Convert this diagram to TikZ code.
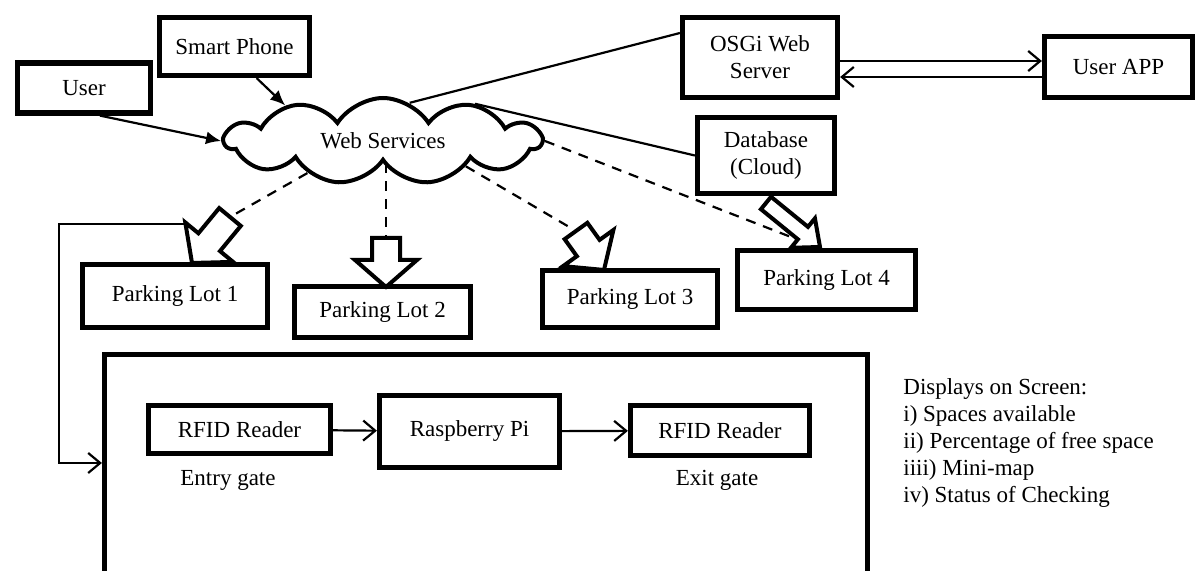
\documentclass[tikz,border=0pt]{standalone}
\usepackage{fontspec}
\setmainfont{Liberation Serif}
\usetikzlibrary{shapes.symbols,arrows.meta,calc}

\tikzset{
  box/.style={draw, line width=2.6pt, align=center, inner sep=2pt, line join=miter},
  conn/.style={line width=1.1pt},
  dashconn/.style={line width=1.1pt, dash pattern=on 5pt off 4pt},
  vtip/.style={-{Straight Barb[length=6pt,width=10pt]}},
  vboth/.style={{Straight Barb[length=6pt,width=10pt]}-},
  filltip/.style={-{Latex[length=7.5pt,width=6.5pt]}},
  hollow/.style={draw, fill=white, line width=2pt, line join=miter},
}

% block arrow with a white body from #1 (tail) to #2 (tip);
% #3 shaft half width, #4 head half width, #5 head length (pt)
\newcommand{\hollowarrow}[5]{%
  \path let \p1=(#1), \p2=(#2),
        \n1={atan2(\y2-\y1,\x2-\x1)}, \n2={veclen(\x2-\x1,\y2-\y1)} in
        \pgfextra{\xdef\hArrAngle{\n1}\xdef\hArrLen{\n2}};
  \begin{scope}[shift={(#1)}, rotate=\hArrAngle, x=1pt, y=1pt]
    \draw[hollow] (0,-#3) -- (\hArrLen-#5,-#3) -- (\hArrLen-#5,-#4) -- (\hArrLen,0)
      -- (\hArrLen-#5,#4) -- (\hArrLen-#5,#3) -- (0,#3) -- cycle;
  \end{scope}}

\begin{document}
\begin{tikzpicture}[x=0.5pt,y=-0.5pt, font=\fontsize{11.5}{13.5}\selectfont]
\useasboundingbox (0,0) rectangle (1195,571);
\clip (0,0) rectangle (1195,571);

% top row
\node[box, minimum width=66.5pt, minimum height=25pt] (user) at (84,88) {User};
\node[box, minimum width=75pt, minimum height=29pt] (phone) at (234.5,46.5) {Smart Phone};
\node[box, minimum width=77.5pt, minimum height=40pt] (osgi) at (760,57.5) {OSGi Web\\Server};
\node[box, minimum width=74pt, minimum height=30.5pt] (app) at (1118.5,67) {User APP};
\node[box, minimum width=68.5pt, minimum height=38pt] (db) at (766,155.5) {Database\\(Cloud)};

% the cloud
\node[cloud, draw, line width=2pt, cloud puffs=11, cloud puff arc=115, aspect=3.7,
      minimum width=158pt, minimum height=43pt, inner sep=0pt] (cloud) at (383,141) {Web Services};

% parking lots
\node[box, minimum width=92.5pt, minimum height=31.5pt] (pl1) at (175,296) {Parking Lot 1};
\node[box, minimum width=88pt, minimum height=25.5pt] (pl2) at (382.5,312) {Parking Lot 2};
\node[box, minimum width=87.5pt, minimum height=28.5pt] (pl3) at (630,299) {Parking Lot 3};
\node[box, minimum width=89pt, minimum height=29.5pt] (pl4) at (826.5,280) {Parking Lot 4};

% lot controller frame and its parts
\node[box, minimum width=381.5pt, minimum height=132.75pt] (lot) at (486,487) {};
\node[box, minimum width=91pt, minimum height=24pt] (rfid1) at (239.5,429.5) {RFID Reader};
\node[box, minimum width=90pt, minimum height=36pt] (pi) at (469.5,431.5) {Raspberry Pi};
\node[box, minimum width=89.5pt, minimum height=25pt] (rfid2) at (720,430.5) {RFID Reader};
\node (entry) at (228,480) {Entry gate};
\node (exit) at (717,480) {Exit gate};

\node[anchor=north west, align=left, inner sep=0pt] (disp) at (903,378)
  {Displays on Screen:\\ i) Spaces available\\ ii) Percentage of free space\\ iiii) Mini-map\\ iv) Status of Checking};

% arrow ends
\coordinate (h1) at (230,217);
\coordinate (t1) at (192,263);
\coordinate (h2) at (386,238);
\coordinate (t2) at (386,287);
\coordinate (h3) at (576,231);
\coordinate (t3) at (604,270);
\coordinate (h4) at (766,203);
\coordinate (t4) at (820,247);
\coordinate (t5) at (814,246);
\coordinate (lp) at (188,224);
\coordinate (loop) at (59,463);

% plain connectors
\draw[conn, filltip] (user.-60) -- (cloud.west);
\draw[conn, filltip] (phone.-55) -- (cloud.160);
\draw[conn] (cloud.55) -- (osgi.163);
\draw[conn] (cloud.22) -- (db.west);
\draw[conn, vtip] ($(osgi.east)+(0,3.5)$) -- ($(app.west)+(0,-6)$);
\draw[conn, vboth] ($(osgi.east)+(0,19.5)$) -- ($(app.west)+(0,10)$);

% dashed links to the lots
\draw[dashconn] (cloud.203) -- (h1);
\draw[dashconn] (h2 |- cloud.south) -- (h2);
\draw[dashconn] (cloud.-17) -- (h3);
\draw[dashconn, vtip] (cloud.east) -- (t5);

% loop into the lot controller
\draw[conn, vtip] (lp) -| (loop) -- (lot.west |- loop);

% block arrows
\hollowarrow{h1}{t1}{7}{15.5}{13.5}
\hollowarrow{h2}{t2}{7}{15.5}{13.5}
\hollowarrow{h3}{t3}{7}{15.5}{13.5}
\hollowarrow{h4}{t4}{4}{9.5}{11}

% inside the frame
\draw[conn, vtip] (rfid1) -- (pi);
\draw[conn, vtip] (pi) -- (rfid2);
\end{tikzpicture}
\end{document}
